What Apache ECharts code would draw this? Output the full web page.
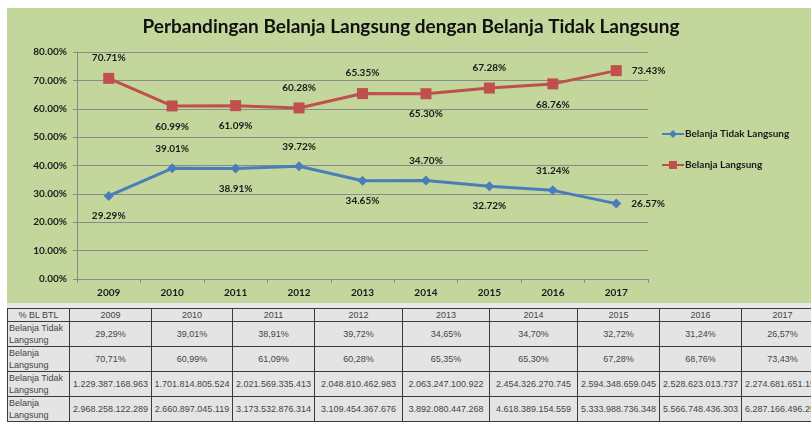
<!DOCTYPE html>
<html>
<head>
<meta charset="utf-8">
<script src="https://cdn.jsdelivr.net/npm/echarts@6/dist/echarts.min.js"></script>
<style>
  html, body { margin: 0; padding: 0; background: #fff; width: 811px; height: 423px; overflow: hidden; }
  #wrap { position: absolute; left: 7px; top: 8px; width: 804px; height: 295px; background: #c3d69b; }
  #chart { width: 804px; height: 295px; }
  #band { position: absolute; left: 7px; top: 303px; width: 804px; height: 6px; background: #e8e8e8; }
  #tbl { position: absolute; left: 7px; top: 308px; border-collapse: collapse; table-layout: fixed;
         font-family: "Liberation Sans", Arial, sans-serif; font-size: 9px; color: #444; background: #e4e4e4; }
  #tbl td { border: 1px solid #3c3c3c; padding: 0 1px; text-align: center; white-space: nowrap; overflow: hidden; }
  #tbl td.lab { text-align: left; white-space: normal; line-height: 12px; }
  #tbl tr.hd td { height: 12px; line-height: 12px; }
  #tbl tr.r td { height: 24px; }
</style>
</head>
<body>
<div id="wrap"><div id="chart"></div></div>
<div id="band"></div>
<table id="tbl"></table>
<script>
  // data
  const years = ['2009', '2010', '2011', '2012', '2013', '2014', '2015', '2016', '2017']
  const btlPct = [29.29, 39.01, 38.91, 39.72, 34.65, 34.70, 32.72, 31.24, 26.57]
  const blPct = [70.71, 60.99, 61.09, 60.28, 65.35, 65.30, 67.28, 68.76, 73.43]
  const btlPos = ['bottom', 'top', 'bottom', 'top', 'bottom', 'top', 'bottom', 'top', 'right']
  const blPos = ['top', 'bottom', 'bottom', 'top', 'top', 'bottom', 'top', 'bottom', 'right']
  const btlNominal = ['1.229.387.168.963', '1.701.814.805.524', '2.021.569.335.413', '2.048.810.462.983',
    '2.063.247.100.922', '2.454.326.270.745', '2.594.348.659.045', '2.528.623.013.737', '2.274.681.651.150']
  const blNominal = ['2.968.258.122.289', '2.660.897.045.119', '3.173.532.876.314', '3.109.454.367.676',
    '3.892.080.447.268', '4.618.389.154.559', '5.333.988.736.348', '5.566.748.436.303', '6.287.166.496.250']
  const colWidths = [62, 82, 81, 82, 88, 87, 88, 82, 82, 82]

  const chart = echarts.init(document.getElementById('chart'))
  const labelFont = { fontFamily: 'Lato', fontWeight: 'bold', fontSize: 10, color: '#1a1a1a' }

  function withPos(vals, pos) {
    return vals.map((v, i) => ({ value: v, label: { position: pos[i] } }))
  }

  chart.setOption({
    animation: false,
    title: {
      text: 'Perbandingan Belanja Langsung dengan Belanja Tidak Langsung',
      top: 4,
      left: 406 - 7,
      textAlign: 'center',
      textStyle: { fontFamily: 'Lato', fontWeight: 'bold', fontSize: 19, color: '#111' }
    },
    grid: { left: 70, top: 44, width: 571, height: 227 },
    legend: {
      orient: 'vertical',
      left: 649,
      top: 116,
      itemGap: 21,
      itemWidth: 22,
      itemHeight: 10,
      textStyle: { fontFamily: 'Lato', fontWeight: 'bold', fontSize: 10, color: '#1a1a1a', padding: [0, 0, 0, -4] },
      data: ['Belanja Tidak Langsung', 'Belanja Langsung']
    },
    xAxis: {
      type: 'category',
      data: years,
      axisLine: { lineStyle: { color: '#8a8a8a' } },
      axisTick: { show: true, length: 4, lineStyle: { color: '#8a8a8a' } },
      axisLabel: Object.assign({ margin: 9 }, labelFont)
    },
    yAxis: {
      type: 'value',
      min: 0,
      max: 80,
      interval: 10,
      axisLine: { show: true, lineStyle: { color: '#8a8a8a' } },
      axisTick: { show: true, length: 4, lineStyle: { color: '#8a8a8a' } },
      splitLine: { lineStyle: { color: '#8a8a8a' } },
      axisLabel: Object.assign({ margin: 10, formatter: v => v.toFixed(2) + '%' }, labelFont)
    },
    series: [
      {
        name: 'Belanja Tidak Langsung',
        type: 'line',
        data: withPos(btlPct, btlPos),
        color: '#4a7ebb',
        symbol: 'diamond',
        symbolSize: 10,
        lineStyle: { width: 3 },
        label: Object.assign({ show: true, distance: 10, formatter: p => p.value.toFixed(2) + '%' }, labelFont)
      },
      {
        name: 'Belanja Langsung',
        type: 'line',
        data: withPos(blPct, blPos),
        color: '#c0504d',
        symbol: 'rect',
        symbolSize: 11,
        lineStyle: { width: 3 },
        label: Object.assign({ show: true, distance: 10, formatter: p => p.value.toFixed(2) + '%' }, labelFont)
      }
    ]
  })

  // table below the chart
  const pct = v => v.toFixed(2).replace('.', ',') + '%'
  const rows = [
    ['% BL BTL', years, 'hd'],
    ['Belanja Tidak Langsung', btlPct.map(pct), 'r'],
    ['Belanja Langsung', blPct.map(pct), 'r'],
    ['Belanja Tidak Langsung', btlNominal, 'r'],
    ['Belanja Langsung', blNominal, 'r']
  ]
  const tbl = document.getElementById('tbl')
  const cg = document.createElement('colgroup')
  colWidths.forEach(w => {
    const c = document.createElement('col')
    c.style.width = w + 'px'
    cg.appendChild(c)
  })
  tbl.appendChild(cg)
  tbl.style.width = colWidths.reduce((a, b) => a + b, 0) + 'px'
  rows.forEach(([head, cells, cls]) => {
    const tr = document.createElement('tr')
    tr.className = cls
    const th = document.createElement('td')
    th.textContent = head
    if (cls !== 'hd') th.className = 'lab'
    tr.appendChild(th)
    cells.forEach(t => {
      const td = document.createElement('td')
      td.textContent = t
      tr.appendChild(td)
    })
    tbl.appendChild(tr)
  })
</script>
</body>
</html>
